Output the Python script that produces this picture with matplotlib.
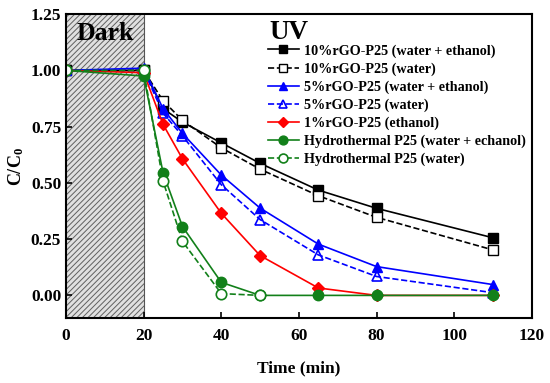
import matplotlib
matplotlib.use("Agg")
import matplotlib.pyplot as plt
from matplotlib.patches import Rectangle

plt.rcParams["font.family"] = ["Liberation Serif", "DejaVu Serif"]
plt.rcParams["font.weight"] = "bold"
plt.rcParams["mathtext.fontset"] = "custom"
plt.rcParams["mathtext.rm"] = "Liberation Serif:bold"
plt.rcParams["mathtext.it"] = "Liberation Serif:bold"
plt.rcParams["hatch.color"] = "#606060"
plt.rcParams["hatch.linewidth"] = 0.7

# time points (min)
t_full = [0, 20, 25, 30, 40, 50, 65, 80, 110]
t_water_p25 = [0, 20, 25, 30, 40, 50]

rgo10_we = [1.00, 1.00, 0.83, 0.77, 0.678, 0.587, 0.468, 0.387, 0.256]
rgo10_w = [1.00, 1.00, 0.865, 0.778, 0.656, 0.561, 0.443, 0.347, 0.202]
rgo5_we = [1.00, 1.01, 0.83, 0.72, 0.535, 0.388, 0.228, 0.128, 0.048]
rgo5_w = [1.00, 1.00, 0.81, 0.709, 0.492, 0.337, 0.18, 0.084, 0.012]
rgo1_e = [1.00, 0.99, 0.76, 0.607, 0.365, 0.177, 0.033, 0.0, 0.0]
hp25_we = [1.00, 0.975, 0.545, 0.306, 0.058, 0.0, 0.0, 0.0, 0.0]
hp25_w = [1.00, 1.00, 0.508, 0.24, 0.008, 0.0]

labels = [
    "10%rGO-P25 (water + ethanol)",
    "10%rGO-P25 (water)",
    "5%rGO-P25 (water + ethanol)",
    "5%rGO-P25 (water)",
    "1%rGO-P25 (ethanol)",
    "Hydrothermal P25 (water + echanol)",
    "Hydrothermal P25 (water)",
]

green = "#12801a"

fig = plt.figure(figsize=(5.5, 3.83), dpi=100)
ax = fig.add_axes([0.12, 0.17, 0.847, 0.793])

ax.add_patch(Rectangle((0, -0.1), 20, 1.35, facecolor="#e0e0e0",
                       edgecolor="#606060", hatch="//////", linewidth=0, zorder=0))
ax.axvline(20, color="#555555", lw=0.8, zorder=1)

ms = 6.5
ax.plot(t_full, rgo10_we, "-s", color="black", mfc="black", ms=ms, lw=1.2, label=labels[0])
ax.plot(t_full, rgo10_w, "--s", color="black", mfc="white", ms=ms, lw=1.2, label=labels[1])
ax.plot(t_full, rgo5_we, "-^", color="blue", mfc="blue", ms=ms + 1, lw=1.2, label=labels[2])
ax.plot(t_full, rgo5_w, "--^", color="blue", mfc="none", ms=ms + 1, lw=1.2, mew=1.2, label=labels[3])
ax.plot(t_full, rgo1_e, "-D", color="red", mfc="red", ms=ms, lw=1.2, label=labels[4])
ax.plot(t_full, hp25_we, "-o", color=green, mfc=green, ms=ms + 1, lw=1.2, label=labels[5])
ax.plot(t_water_p25, hp25_w, "--o", color=green, mfc="white", ms=ms + 1, lw=1.2, mew=1.2, label=labels[6])

ax.set_xlim(0, 120)
ax.set_ylim(-0.1, 1.25)
ax.set_xticks([0, 20, 40, 60, 80, 100, 120])
ax.set_yticks([0.0, 0.25, 0.5, 0.75, 1.0, 1.25])
ax.set_yticklabels(["0.00", "0.25", "0.50", "0.75", "1.00", "1.25"])
ax.tick_params(direction="in", labelsize=12.5, width=1.2, length=4)
ax.tick_params(axis="x", pad=7)
for lab in ax.get_xticklabels() + ax.get_yticklabels():
    lab.set_fontweight("bold")
for s in ax.spines.values():
    s.set_linewidth(1.5)

ax.set_xlabel("Time (min)", fontsize=12.5, fontweight="bold", labelpad=12)
ax.set_ylabel("C/C$_0$", fontsize=13, fontweight="bold", labelpad=3)

ax.text(2.8, 1.165, "Dark", fontsize=18.5, fontweight="bold", va="center", ha="left")
ax.text(52.5, 1.17, "UV", fontsize=19.5, fontweight="bold", va="center", ha="left")

ax.legend(loc="upper left", bbox_to_anchor=(0.418, 0.925), frameon=False,
          prop={"size": 10.2, "weight": "bold"}, labelspacing=0.33,
          handlelength=2.2, handletextpad=0.35, borderpad=0, markerscale=0.85)

fig.savefig("out.png", dpi=100)
